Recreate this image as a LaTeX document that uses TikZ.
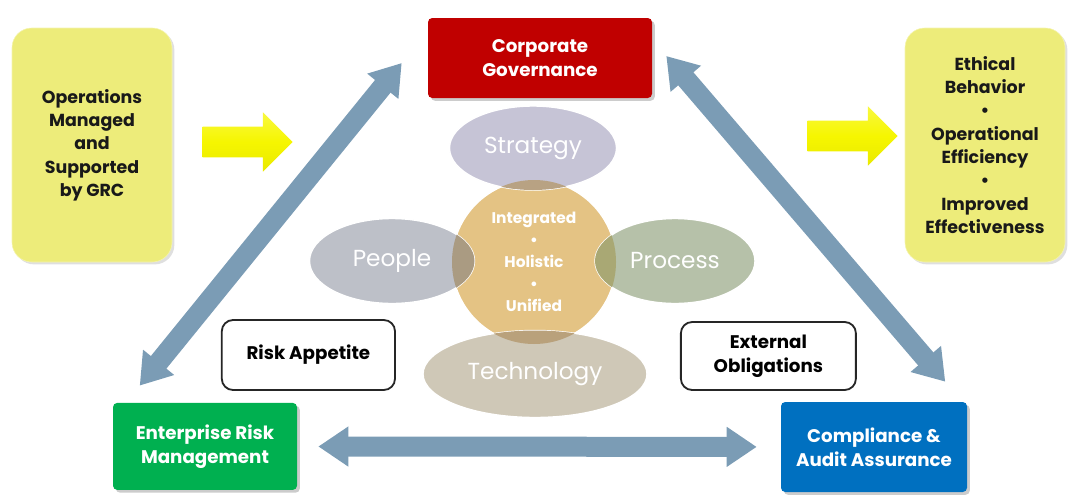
\documentclass[tikz,border=0pt]{standalone}
\usepackage{fontspec}
\setmainfont{Poppins}
\usetikzlibrary{positioning,calc,shapes.geometric,shapes.arrows,arrows.meta,shadows}
\definecolor{boxyellow}{HTML}{EDEC7A}
\definecolor{pushyellow}{HTML}{F6F600}
\definecolor{govred}{HTML}{C00000}
\definecolor{riskgreen}{HTML}{00B050}
\definecolor{auditblue}{HTML}{0070C0}
\definecolor{linkblue}{HTML}{7B9CB5}
\definecolor{strategyc}{HTML}{C6C4D6}
\definecolor{hubc}{HTML}{E4C384}
\definecolor{peoplec}{HTML}{BDC0C8}
\definecolor{processc}{HTML}{B6C1A9}
\definecolor{technologyc}{HTML}{CFC8B7}
\definecolor{strategyx}{HTML}{B8A283}
\definecolor{peoplex}{HTML}{AA9B82}
\definecolor{processx}{HTML}{A9A874}
\definecolor{technologyx}{HTML}{B9A17B}
\newcommand{\fsz}[2]{\fontsize{#1}{#2}\selectfont}
\tikzset{
  outcome/.style={rounded corners=14pt, fill=boxyellow, draw=boxyellow!60!white, align=center,
    text=black!90, font=\bfseries\fsz{12.4}{16.6}, inner sep=0pt,
    drop shadow={shadow xshift=0.06cm, shadow yshift=-0.06cm, opacity=0.25}},
  pillar/.style={rounded corners=3pt, text=white, align=center, font=\bfseries\fsz{13}{17},
    drop shadow={shadow xshift=0.07cm, shadow yshift=-0.07cm, opacity=0.4}},
  note/.style={draw=black!85, line width=1.3pt, rounded corners=8pt, fill=white, align=center,
    font=\bfseries\fsz{13}{17}},
  lens/.style={ellipse, draw=white, line width=1pt, text=white, inner sep=0pt,
    font=\fsz{16.5}{18}},
  push/.style={single arrow, top color=pushyellow!75!white, bottom color=pushyellow!95!black,
    middle color=pushyellow, draw=none, inner xsep=0pt, inner ysep=0.375cm,
    minimum height=2.25cm, single arrow head extend=0.36cm},
  link/.style={line width=0.5cm, draw=linkblue,
    {Triangle[width=0.95cm,length=0.75cm]}-{Triangle[width=0.95cm,length=0.75cm]}}
}

\begin{document}
\begin{tikzpicture}

\useasboundingbox (0,0) rectangle (26.7,-12.35);

\node [outcome, minimum width=4cm, minimum height=5.85cm] (OPS) at (2.3,-3.625)
  {Operations\\Managed\\and\\Supported\\by GRC};
\node [outcome, minimum width=4cm, minimum height=5.85cm] (OUT) at (24.625,-3.625)
  {Ethical\\Behavior\\\textbullet\\Operational\\Efficiency\\\textbullet\\Improved\\Effectiveness};
\node [push] (PIN) at (6.0,-3.55) {};
\node [push] (POUT) at (21.125,-3.4) {};

\node [pillar, fill=govred, minimum width=5.6cm, minimum height=2cm] (CG) at (13.5,-1.45)
  {Corporate\\Governance};
\node [pillar, fill=riskgreen, minimum width=4.6cm, minimum height=2.175cm] (ERM) at (5.125,-11.16)
  {Enterprise Risk\\Management};
\node [pillar, fill=auditblue, minimum width=4.65cm, minimum height=2.25cm] (CAA) at (21.85,-11.175)
  {Compliance \&\\Audit Assurance};

\node [note, minimum width=4.33cm, minimum height=1.75cm] (RA) at (7.71,-8.875) {Risk Appetite};
\node [note, minimum width=4.375cm, minimum height=1.7cm] (EO) at (19.21,-8.9) {External\\Obligations};

\node [lens, circle, fill=hubc, minimum size=4.1cm, align=center, font=\bfseries\fsz{11}{15.6}] (HUB)
  at (13.35,-6.55) {Integrated\\\textbullet\\Holistic\\\textbullet\\Unified};
\node [lens, fill=strategyc, minimum width=4.175cm, minimum height=2.1cm] (STR) at (13.325,-3.7) {Strategy};
\node [lens, fill=peoplec, minimum width=4.125cm, minimum height=2.125cm] (PPL) at (9.8,-6.525) {People};
\node [lens, fill=processc, minimum width=4cm, minimum height=2.125cm] (PRC) at (16.875,-6.525) {Process};
\node [lens, fill=technologyc, minimum width=5.6cm, minimum height=2.175cm] (TEC) at (13.375,-9.35) {Technology};

\foreach \n/\c/\rx/\ry in {STR/strategyx/2.0875/1.05, PPL/peoplex/2.0625/1.0625,
                            PRC/processx/2/1.0625, TEC/technologyx/2.8/1.0875}{
  \begin{scope}
    \clip (HUB.center) circle (2.05);
    \fill [\c] (\n.center) ellipse (\rx cm and \ry cm);
  \end{scope}
}

\coordinate [above right=0.425 and 0.675 of ERM.north west] (ERMUP);
\coordinate [above left=-0.125 and 0.65 of CG.west] (CGLEFT);
\coordinate [above right=0.05 and 0.35 of CG.east] (CGRIGHT);
\coordinate [above left=0.5 and 0.55 of CAA.north east] (CAAUP);

\draw [link] (ERMUP) -- (CGLEFT);
\draw [link] (CGRIGHT) -- (CAAUP);
\draw [link, shorten <=0.525cm, shorten >=0.6cm] (ERM) -- (CAA);

\end{tikzpicture}
\end{document}
